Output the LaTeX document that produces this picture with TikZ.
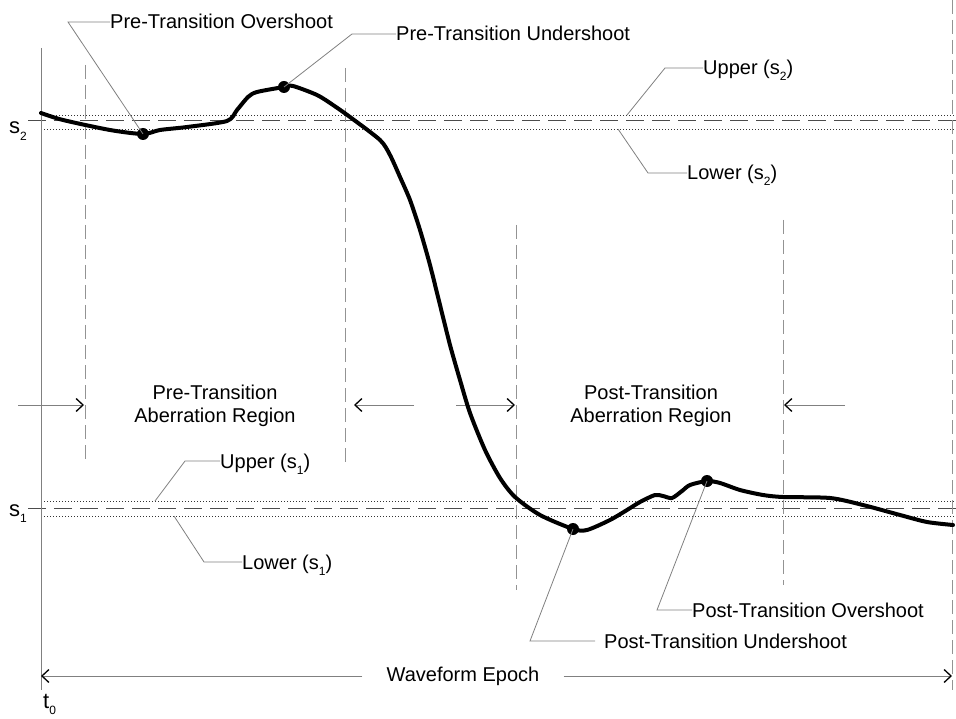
\documentclass[tikz,border=0pt]{standalone}
\usepackage{fontspec}
\setmainfont{Liberation Sans}
\usetikzlibrary{arrows.meta}
\newcommand\sbs[1]{\raisebox{-0.3em}{\fontsize{12}{12}\selectfont #1}}
\begin{document}
\begin{tikzpicture}[x=1pt,y=-1pt,
  lbl/.style={font=\fontsize{20}{23}\selectfont, inner sep=0pt, anchor=base west},
  leader/.style={draw=gray, line width=0.8pt},
  vdash/.style={draw=gray!85, line width=1pt, dash pattern=on 14pt off 6pt},
  hdash/.style={draw=black!70, line width=1pt, dash pattern=on 18pt off 8pt},
  hdot/.style={draw=black!80, line width=0.8pt, dash pattern=on 1pt off 2pt},
  dotmark/.style={circle, fill=black, inner sep=0pt, minimum size=12pt},
  arr/.style={draw=gray, line width=1pt, -{Straight Barb[length=7pt,width=13pt,line width=1.3pt,color=black]}},
  wave/.style={line width=4pt, line join=round, line cap=round}
]
\useasboundingbox (0,0) rectangle (956,719);

% reference levels
\coordinate (s2dL) at (28,121);  \coordinate (s2dR) at (956,121);
\coordinate (s2uL) at (41,115);  \coordinate (s2uR) at (956,115);
\coordinate (s2lL) at (41,129);  \coordinate (s2lR) at (956,129);
\coordinate (s1dL) at (28,508);  \coordinate (s1dR) at (956,508);
\coordinate (s1uL) at (41,501);  \coordinate (s1uR) at (956,501);
\coordinate (s1lL) at (41,516);  \coordinate (s1lR) at (956,516);
\draw[hdash] (s2dL) -- (s2dR);
\draw[hdot] (s2uL) -- (s2uR);
\draw[hdot] (s2lL) -- (s2lR);
\draw[hdash] (s1dL) -- (s1dR);
\draw[hdot] (s1uL) -- (s1uR);
\draw[hdot] (s1lL) -- (s1lR);

% t0 axis and epoch end
\coordinate (axT) at (41,48);   \coordinate (axB) at (41,690);
\draw[gray, line width=1pt] (axT) -- (axB);
\coordinate (rT) at (952,0);    \coordinate (rB) at (952,690);
\draw[vdash] (rT) -- (rB);

% region boundaries
\coordinate (v1T) at (85,65);   \coordinate (v1B) at (85,462);
\coordinate (v2T) at (345,68);  \coordinate (v2B) at (345,462);
\coordinate (v3T) at (516,225); \coordinate (v3B) at (516,590);
\coordinate (v4T) at (783,220); \coordinate (v4B) at (783,585);
\draw[vdash] (v1T) -- (v1B);
\draw[vdash] (v2T) -- (v2B);
\draw[vdash] (v3T) -- (v3B);
\draw[vdash] (v4T) -- (v4B);

% region arrows
\coordinate (a1s) at (18,405);  \coordinate (a1e) at (84,405);
\coordinate (a2s) at (414,405); \coordinate (a2e) at (354,405);
\coordinate (a3s) at (456,405); \coordinate (a3e) at (515,405);
\coordinate (a4s) at (845,405); \coordinate (a4e) at (784,405);
\draw[arr] (a1s) -- (a1e);
\draw[arr] (a2s) -- (a2e);
\draw[arr] (a3s) -- (a3e);
\draw[arr] (a4s) -- (a4e);

\node[font=\fontsize{20}{23}\selectfont, align=center, inner sep=0pt] (pre) at (215,406) {Pre-Transition\\Aberration Region};
\node[font=\fontsize{20}{23}\selectfont, align=center, inner sep=0pt] (post) at (651,406) {Post-Transition\\Aberration Region};

% waveform
\draw[wave] plot[smooth, tension=0.45] coordinates {
(41,113) (63,120) (110,130) (143,134) (160,130) (187,127) (227,121) (237,110)
(248,97) (257,92) (284,87) (293,86) (317,95) (333,105) (350,117) (380,140)
(390,155) (400,177) (410,200) (420,230) (430,265) (440,305) (450,345) (460,380)
(470,413) (485,450) (500,478) (515,497) (540,515) (573,529) (587,530) (610,520)
(627,510) (640,502) (655,495) (663,496) (672,498) (682,491) (690,485) (707,481)
(720,483) (740,490) (763,495) (783,497) (830,498) (863,505) (900,515) (927,522) (953,525)};

\node[dotmark] (d1) at (143,134) {};
\node[dotmark] (d2) at (284,87) {};
\node[dotmark] (d3) at (573,529) {};
\node[dotmark] (d4) at (707,481) {};

% labels with leaders
\node[lbl] (l1) at (110,29) {Pre-Transition Overshoot};
\coordinate (k1) at (68,22);
\draw[leader] (d1.center) -- (k1) -- (l1.west |- k1);

\node[lbl] (l2) at (396,41) {Pre-Transition Undershoot};
\coordinate (k2) at (352,34);
\draw[leader] (d2.center) -- (k2) -- (l2.west |- k2);

\node[lbl] (l3) at (703,75) {Upper (s\sbs{2})};
\coordinate (k3) at (665,68); \coordinate (p3) at (627,115);
\draw[leader] (p3) -- (k3) -- (l3.west |- k3);

\node[lbl] (l4) at (687,180) {Lower (s\sbs{2})};
\coordinate (k4) at (648,173); \coordinate (p4) at (618,129);
\draw[leader] (p4) -- (k4) -- (l4.west |- k4);

\node[lbl] (l5) at (220,468) {Upper (s\sbs{1})};
\coordinate (k5) at (185,461); \coordinate (p5) at (155,501);
\draw[leader] (p5) -- (k5) -- (l5.west |- k5);

\node[lbl] (l6) at (242,569) {Lower (s\sbs{1})};
\coordinate (k6) at (204,562); \coordinate (p6) at (174,516);
\draw[leader] (p6) -- (k6) -- (l6.west |- k6);

\node[lbl] (l7) at (692,617) {Post-Transition Overshoot};
\coordinate (k7) at (657,610);
\draw[leader] (d4.center) -- (k7) -- (l7.west |- k7);

\node[lbl] (l8) at (604,648) {Post-Transition Undershoot};
\coordinate (k8) at (530,641);
\draw[leader] (d3.center) -- (k8) -- ([xshift=-9pt]l8.west |- k8);

% level labels
\node[lbl, font=\fontsize{22}{23}\selectfont] (s2) at (9,134) {s\sbs{2}};
\node[lbl, font=\fontsize{22}{23}\selectfont] (s1) at (9,516) {s\sbs{1}};
\node[lbl, font=\fontsize{22}{23}\selectfont] (t0) at (43,708) {t\sbs{0}};

% waveform epoch
\node[font=\fontsize{20}{23}\selectfont, inner ysep=0pt, inner xsep=24pt] (ep) at (463,676) {Waveform Epoch};
\coordinate (eL) at (41,676); \coordinate (eR) at (952,676);
\draw[arr] (ep.west) -- (eL);
\draw[arr] (ep.east) -- (eR);
\end{tikzpicture}
\end{document}
